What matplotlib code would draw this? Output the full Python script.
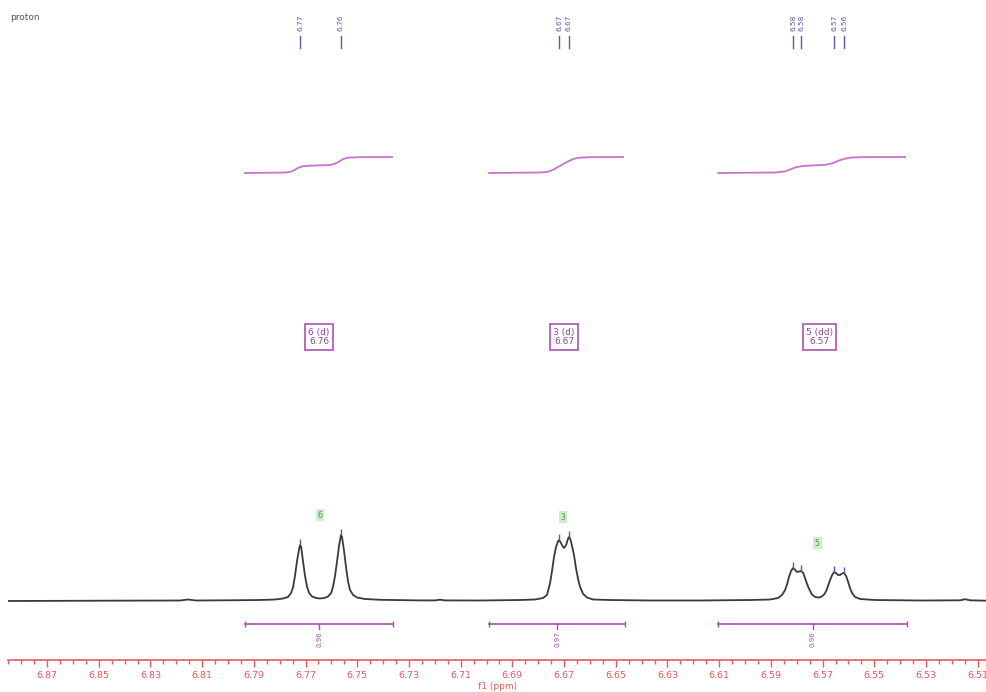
import numpy as np
import matplotlib
matplotlib.use("Agg")
import matplotlib.pyplot as plt
from matplotlib.ticker import MultipleLocator, FixedLocator

# spectrum trace (ppm, intensity)
ppm = [6.8851, 6.8495, 6.8185, 6.8155, 6.8124, 6.7953, 6.7876, 6.7818, 6.7787, 6.7768,
       6.7756, 6.7748, 6.7741, 6.7733, 6.7725, 6.7721, 6.7717, 6.7710, 6.7702, 6.7694,
       6.7686, 6.7675, 6.7659, 6.7644, 6.7628, 6.7613, 6.7601, 6.7594, 6.7586, 6.7578,
       6.7570, 6.7563, 6.7559, 6.7551, 6.7543, 6.7536, 6.7528, 6.7516, 6.7501, 6.7470,
       6.7412, 6.7257, 6.7199, 6.7180, 6.7160, 6.7025, 6.6870, 6.6812, 6.6781, 6.6766,
       6.6754, 6.6746, 6.6739, 6.6731, 6.6723, 6.6719, 6.6712, 6.6704, 6.6700, 6.6692,
       6.6685, 6.6681, 6.6677, 6.6669, 6.6661, 6.6654, 6.6646, 6.6638, 6.6626, 6.6611,
       6.6588, 6.6522, 6.6367, 6.6174, 6.5980, 6.5903, 6.5872, 6.5857, 6.5845, 6.5837,
       6.5830, 6.5822, 6.5814, 6.5806, 6.5799, 6.5791, 6.5783, 6.5775, 6.5768, 6.5760,
       6.5752, 6.5741, 6.5729, 6.5717, 6.5706, 6.5694, 6.5686, 6.5679, 6.5671, 6.5663,
       6.5655, 6.5648, 6.5640, 6.5632, 6.5625, 6.5617, 6.5609, 6.5601, 6.5594, 6.5586,
       6.5574, 6.5555, 6.5497, 6.5323, 6.5168, 6.5149, 6.5129, 6.5064]
intensity = [0, 0.3, 0.5, 1.5, 0.5, 0.8, 1.0, 1.5, 2.5, 4,
             8, 14, 25, 40, 52, 56, 54, 40, 25, 14,
             8, 4.5, 3, 2.5, 3, 4.5, 8, 14, 25, 40,
             56, 66, 64, 50, 33, 20, 11, 6, 3.5, 2,
             1.2, 0.6, 0.6, 1.3, 0.6, 0.5, 1, 1.5, 3, 6,
             18, 31, 44, 54, 60, 61, 58, 54, 53, 56,
             62, 64, 63, 55, 45, 33, 22, 14, 7, 3.5,
             1.5, 1, 0.5, 0.5, 1, 1.5, 3, 6, 11, 17,
             24, 30, 33, 31, 29, 29.5, 30, 28, 23, 17,
             12, 6.5, 4, 3.5, 4, 6.5, 10, 15, 21, 26,
             29, 28, 26, 26, 27.5, 28, 25, 19, 13, 8,
             4, 2, 1, 0.5, 0.7, 1.8, 0.7, 0.3]

# picked peaks
peak_ppm = [6.7721, 6.7563, 6.6719, 6.6681, 6.5814, 6.5783, 6.5655, 6.5617]
peak_int = [56, 66, 61, 64, 33, 30, 29, 28]
peak_labels = ["6.77", "6.76", "6.67", "6.67", "6.58", "6.58", "6.57", "6.56"]

# integral curves (ppm, fraction of region)
int1_ppm = [6.7934, 6.7779, 6.7756, 6.7741, 6.7729, 6.7714, 6.7690, 6.7605, 6.7586, 6.7570,
            6.7555, 6.7536, 6.7489, 6.7365]
int1_val = [0, 0.03, 0.08, 0.2, 0.32, 0.41, 0.45, 0.50, 0.58, 0.72, 0.87, 0.96, 0.99, 1.0]
int2_ppm = [6.6990, 6.6793, 6.6762, 6.6743, 6.6723, 6.6704, 6.6685, 6.6665, 6.6646, 6.6599, 6.6472]
int2_val = [0, 0.03, 0.08, 0.2, 0.38, 0.55, 0.72, 0.87, 0.95, 0.99, 1.0]
int3_ppm = [6.6104, 6.5884, 6.5845, 6.5826, 6.5803, 6.5775, 6.5741, 6.5690, 6.5663, 6.5640,
            6.5613, 6.5586, 6.5536, 6.5381]
int3_val = [0, 0.03, 0.1, 0.22, 0.36, 0.44, 0.47, 0.51, 0.6, 0.76, 0.9, 0.97, 0.995, 1.0]

# integration ranges and values
ranges = [(6.7934, 6.7361), (6.6990, 6.6464), (6.6104, 6.5373)]
range_values = ["0.96", "0.97", "0.96"]

# multiplet annotations
mult_ppm = [6.7648, 6.6700, 6.5711]
mult_labels = ["6 (d)\n6.76", "3 (d)\n6.67", "5 (dd)\n6.57"]
atom_ppm = [6.7644, 6.6704, 6.5721]
atom_labels = ["6", "3", "5"]

# axis ticks
tick_values = [6.87, 6.85, 6.83, 6.81, 6.79, 6.77, 6.75, 6.73, 6.71,
               6.69, 6.67, 6.65, 6.63, 6.61, 6.59, 6.57, 6.55, 6.53, 6.51]
tick_labels = ["6.87", "6.85", "6.83", "6.81", "6.79", "6.77", "6.75", "6.73", "6.71",
               "6.69", "6.67", "6.65", "6.63", "6.61", "6.59", "6.57", "6.55", "6.53", "6.51"]

red = "#e35b5b"
purple = "#a64fae"
blue = "#5a5aae"

fig = plt.figure(figsize=(9.87, 6.92), dpi=100)
ax = fig.add_axes([8 / 987, 32 / 692, 979 / 987, 660 / 692])
ax.set_xlim(6.8851, 6.5064)
ax.set_ylim(-59, 601)

ax.plot(ppm, intensity, color="#3a3a3a", lw=1.3)

# peak picks
ax.plot(peak_ppm, np.array(peak_int) + 3, ls="none", marker="|", ms=4, mew=1, color=blue)
for p, lab in zip(peak_ppm, peak_labels):
    ax.text(p, 578, lab, rotation=90, ha="center", va="center", fontsize=5.3, color=blue)
    ax.plot([p, p], [553, 565], color=blue, lw=1)

# integrals on their own scale
ax2 = ax.twinx()
ax2.set_ylim(-30.4375, 10.8125)
ax2.axis("off")
for xs, ys in [(int1_ppm, int1_val), (int2_ppm, int2_val), (int3_ppm, int3_val)]:
    ax2.plot(xs, ys, color="#c474cc", lw=1.3)

# integration bars
for (a, b), v in zip(ranges, range_values):
    ax.plot([a, b], [-23, -23], color=purple, lw=1.2, marker="|", ms=5)
    mid = (a + b) / 2
    ax.plot([mid, mid], [-23, -28], color=purple, lw=1)
    ax.text(mid, -38, v, rotation=90, ha="center", va="center", fontsize=5, color=purple)

# multiplet boxes
for p, lab in zip(mult_ppm, mult_labels):
    ax.text(p, 264, lab, ha="center", va="center", fontsize=6.5, color="#8e4896",
            linespacing=1.1,
            bbox=dict(boxstyle="square,pad=0.35", fc="white", ec="#b060b8", lw=1.3))

for p, lab, y in zip(atom_ppm, atom_labels, [86, 84, 58]):
    ax.text(p, y, lab, ha="center", va="center", fontsize=5.5, color="#3c9a3c",
            bbox=dict(boxstyle="square,pad=0.25", fc="#cfeccf", ec="none"))

# axis styling
for s in ["top", "left", "right"]:
    ax.spines[s].set_visible(False)
ax.spines["bottom"].set_color(red)
ax.spines["bottom"].set_linewidth(1.2)
ax.set_yticks([])
ax.xaxis.set_major_locator(FixedLocator(tick_values))
ax.set_xticklabels(tick_labels)
ax.xaxis.set_minor_locator(MultipleLocator(0.005))
ax.tick_params(axis="x", which="major", colors=red, length=5, width=1, labelsize=6.8, pad=3)
ax.tick_params(axis="x", which="minor", colors=red, length=3, width=1)
ax.set_xlabel("f1 (ppm)", fontsize=6.5, color=red, labelpad=1.5)

fig.text(10 / 987, 1 - 18 / 692, "proton", fontsize=6.5, color="#555555", va="center")

fig.savefig("out.png", dpi=100)
